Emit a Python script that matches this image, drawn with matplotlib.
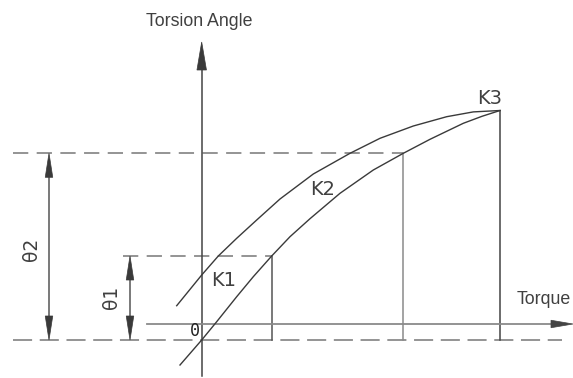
import matplotlib
matplotlib.use("Agg")
import matplotlib.pyplot as plt
from matplotlib.patches import Polygon

# ---- data (pixel-like schematic units) ----
lower_x = [180, 201.7, 216.7, 236.7, 253.3, 271.7, 290, 310, 340, 373.3, 403.3, 430, 463.3, 482, 500]
lower_y = [365, 340, 321.7, 296.7, 276.7, 256, 236.7, 218.7, 193.3, 170, 153.3, 139.3, 123.3, 116.3, 110.5]
upper_x = [176.7, 201.7, 218.3, 236.7, 256.7, 280, 313.3, 350, 380, 413.3, 446.7, 473.3, 500]
upper_y = [305.7, 275, 256, 238.3, 220, 199, 174, 153.3, 138.3, 126, 116.7, 111.9, 110.5]

origin = (201.7, 340)
k1 = (271.7, 256)
k2 = (403.3, 153.3)
k3 = (500, 110.5)
torque_axis_y = 324

labels_k = ["K1", "K2", "K3"]
label_k_pos = [(223.7, 281), (322.5, 189.5), (490, 98)]

fig = plt.figure(figsize=(5.73, 3.78), dpi=100)
ax = fig.add_axes([0, 0, 1, 1])
ax.set_xlim(0, 573)
ax.set_ylim(378, 0)
ax.axis("off")

dark = "#3a3a3a"
grey = "#777777"
lgrey = "#8a8a8a"
txt = "#404040"

def head(tip, direction, length, width, color=dark):
    x, y = tip
    dx, dy = direction
    px, py = -dy, dx
    bx, by = x - dx * length, y - dy * length
    pts = [(x, y), (bx + px * width / 2, by + py * width / 2), (bx - px * width / 2, by - py * width / 2)]
    ax.add_patch(Polygon(pts, closed=True, facecolor=color, edgecolor=color, lw=0.5, zorder=5))

# dashed reference lines
dash_top = (10, 5.5)
ax.plot([13, k2[0]], [k2[1], k2[1]], color=grey, lw=1.1, dashes=dash_top)
ax.plot([123, k1[0]], [k1[1], k1[1]], color=grey, lw=1.1, dashes=dash_top)
ax.plot([13, 562], [origin[1], origin[1]], color=grey, lw=1.1, dashes=(12.5, 5))

# vertical drop lines
ax.plot([k1[0], k1[0]], [k1[1], origin[1]], color="#555555", lw=1.1)
ax.plot([k2[0], k2[0]], [k2[1], origin[1]], color=lgrey, lw=1.1)
ax.plot([k3[0], k3[0]], [k3[1], origin[1]], color="#444444", lw=1.1)

# axes
ax.plot([origin[0], origin[0]], [376, 66], color="#444444", lw=1.1)
head((origin[0], 42), (0, -1), 28, 9.5)
ax.plot([147, 555], [torque_axis_y, torque_axis_y], color=lgrey, lw=1.3)
head((573, torque_axis_y), (1, 0), 22, 7.5, color="#444444")

# curves
ax.plot(lower_x, lower_y, color=dark, lw=1.0, solid_joinstyle="round", antialiased=True)
ax.plot(upper_x, upper_y, color=dark, lw=1.0, solid_joinstyle="round", antialiased=True)

# dimension arrows
for xd, ytop in [(49, k2[1]), (130, k1[1])]:
    ax.plot([xd, xd], [ytop + 20, origin[1] - 20], color="#555555", lw=1.1)
    head((xd, ytop), (0, -1), 24, 7.5)
    head((xd, origin[1]), (0, 1), 24, 7.5)

# texts
ax.text(199.3, 22, "Torsion Angle", family="Liberation Sans", fontsize=12.8,
        color=txt, ha="center", va="center")
ax.text(543.5, 300, "Torque", family="Liberation Sans", fontsize=12.8,
        color=txt, ha="center", va="center")
for lab, (x, y) in zip(labels_k, label_k_pos):
    ax.text(x, y, lab, family="DejaVu Sans", fontsize=14, color=txt, ha="center", va="center")
ax.text(31.3, 249, "θ2", family="DejaVu Sans", fontsize=13.5, color=txt, rotation=90,
        ha="center", va="center")
ax.text(111, 297.5, "θ1", family="DejaVu Sans", fontsize=13.5, color=txt, rotation=90,
        ha="center", va="center")
ax.text(194.5, 331.5, "0", family="DejaVu Sans Mono", fontsize=12, color="#222222",
        ha="center", va="center")

fig.savefig("out.png", dpi=100)
